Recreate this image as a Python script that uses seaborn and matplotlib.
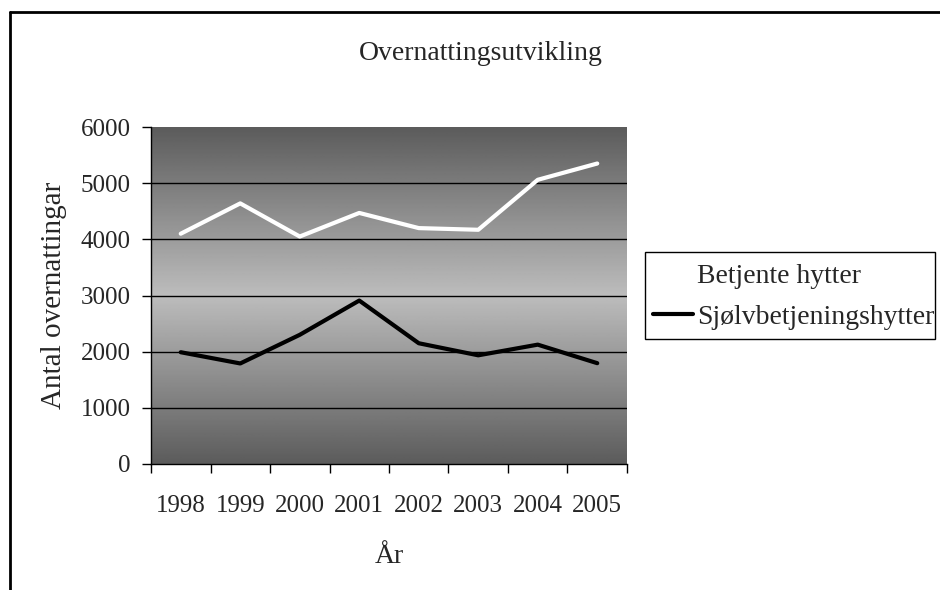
import numpy as np
import pandas as pd
import seaborn as sns
import matplotlib.pyplot as plt
from matplotlib.lines import Line2D
from matplotlib.patches import Rectangle

years = ["1998", "1999", "2000", "2001", "2002", "2003", "2004", "2005"]
betjente = [4100, 4640, 4050, 4470, 4200, 4170, 5060, 5350]
sjolv = [1990, 1790, 2300, 2910, 2150, 1935, 2125, 1795]
series_names = ["Betjente hytter", "Sjølvbetjeningshytter"]
y_ticks = [0, 1000, 2000, 3000, 4000, 5000, 6000]

df = pd.DataFrame({
    "pos": list(range(len(years))) * 2,
    "value": betjente + sjolv,
    "serie": [series_names[0]] * len(years) + [series_names[1]] * len(years),
})

sns.set_style("white")
plt.rcParams["font.family"] = ["Liberation Serif", "DejaVu Serif"]

fig = plt.figure(figsize=(9.4, 5.9), dpi=100)
ax = fig.add_axes([151 / 940, 1 - 464 / 590, 476 / 940, 337 / 590])

# gradient background: dark at top and bottom, light in the middle
t = np.linspace(0, 1, 256)
shade = 0.36 + 0.38 * (1 - np.abs(t - 0.5) * 2)
ax.imshow(shade[:, None], extent=[-0.5, len(years) - 0.5, 0, 6000],
          aspect="auto", cmap="gray", vmin=0, vmax=1, origin="lower", zorder=0)

for v in y_ticks[1:-1]:
    ax.axhline(v, color="black", lw=1, zorder=1)

sns.lineplot(data=df, x="pos", y="value", hue="serie",
             palette={series_names[0]: "white", series_names[1]: "black"},
             linewidth=3.0, ax=ax, zorder=3)

ax.set_xlim(-0.5, len(years) - 0.5)
ax.set_ylim(0, 6000)
ax.set_yticks(y_ticks)
ax.set_yticklabels([str(v) for v in y_ticks], fontsize=18)
ax.set_xticks(np.arange(len(years) + 1) - 0.5)
ax.set_xticklabels([])
ax.set_xticks(np.arange(len(years)), minor=True)
ax.set_xticklabels(years, minor=True, fontsize=18)
ax.tick_params(axis="x", which="major", direction="out", length=6.5, width=1, color="black", bottom=True)
ax.tick_params(axis="x", which="minor", length=0, pad=22)
ax.tick_params(axis="y", direction="out", length=6.5, width=1, color="black", left=True, pad=8)

for side in ["top", "right"]:
    ax.spines[side].set_visible(False)
for side in ["left", "bottom"]:
    ax.spines[side].set_color("black")
    ax.spines[side].set_linewidth(1)

ax.set_xlabel("År", fontsize=20, labelpad=20)
ax.set_ylabel("Antal overnattingar", fontsize=21, labelpad=10)
fig.text(481 / 940, 1 - 53 / 590, "Overnattingsutvikling", fontsize=20,
         ha="center", va="center")

handles, labels = ax.get_legend_handles_labels()
leg = ax.legend(handles, labels, loc="upper left",
                bbox_to_anchor=(653 / 940, 1 - 264 / 590), bbox_transform=fig.transFigure,
                fontsize=20, frameon=False, borderpad=0, handlelength=1.45,
                handletextpad=0.15, labelspacing=0.55, borderaxespad=0)
# Excel-style legend box
fig.add_artist(Rectangle((645 / 940, 1 - 339 / 590), 290 / 940, 87 / 590,
                         transform=fig.transFigure, fill=False, edgecolor="black", lw=1))

# outer chart border (only left and top edges visible)
fig.add_artist(Line2D([10 / 940, 10 / 940], [0, 1 - 12 / 590], color="black", lw=2,
                      transform=fig.transFigure))
fig.add_artist(Line2D([10 / 940, 1], [1 - 12 / 590, 1 - 12 / 590], color="black", lw=2,
                      transform=fig.transFigure))

fig.savefig("out.png", dpi=100, facecolor="white")
